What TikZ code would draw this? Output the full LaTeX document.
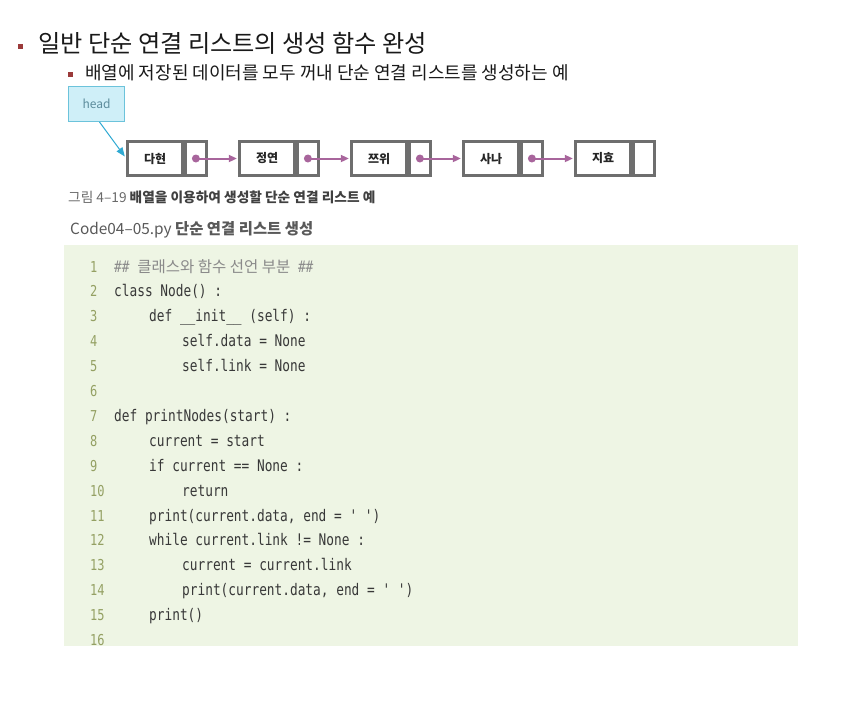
\documentclass[tikz,border=0pt]{standalone}
\usepackage{fontspec}
\setmainfont{Noto Sans CJK KR}
\newfontfamily\codefont{DejaVu Sans Mono}[FakeStretch=0.8, Ligatures=TeXOff]
\newfontfamily\cmtfont{Noto Sans CJK KR}
\usetikzlibrary{arrows.meta,calc}
\definecolor{bul}{HTML}{9B3A3A}
\definecolor{boxgray}{HTML}{6E6E6E}
\definecolor{headfill}{HTML}{CFEFF8}
\definecolor{headdraw}{HTML}{6CC3DB}
\definecolor{headtext}{HTML}{5C8C9C}
\definecolor{headarrow}{HTML}{2FA9D2}
\definecolor{ptrcol}{HTML}{A8659C}
\definecolor{codebg}{HTML}{EEF5E4}
\definecolor{lncol}{HTML}{94A063}
\definecolor{codecol}{HTML}{383838}
\definecolor{cmtcol}{HTML}{8A8A8A}
\definecolor{capgray}{HTML}{6A6A6A}
\tikzset{
  bullet/.style={fill=bul, minimum size=5pt, inner sep=0pt},
  datab/.style={draw=boxgray, line width=2.6pt, minimum width=55pt, minimum height=34.4pt, inner sep=0pt, anchor=west, font=\fontsize{12}{14}\selectfont\bfseries, text=black!85},
  ptrb/.style={draw=boxgray, line width=2.6pt, minimum width=21.4pt, minimum height=34.4pt, inner sep=0pt, anchor=west},
  headbox/.style={draw=headdraw, fill=headfill, line width=1pt, minimum width=56pt, minimum height=35pt, inner sep=0pt, font=\fontsize{12}{14}\selectfont, text=headtext},
  ptrarrow/.style={draw=ptrcol, line width=2pt, -{Triangle[length=8pt,width=7pt]}},
  dot/.style={circle, fill=ptrcol, minimum size=8pt, inner sep=0pt},
  lnum/.style={anchor=base west, inner sep=0pt, font=\codefont\fontsize{15}{16}\selectfont, text=lncol},
  codeline/.style={anchor=base west, inner sep=0pt, font=\codefont\fontsize{16}{18}\selectfont, text=codecol},
}
\begin{document}
\begin{tikzpicture}[x=1pt,y=-1pt]
\useasboundingbox (0,0) rectangle (853,723);
% titles
\node[bullet] (b1) at (20.5,46) {};
\node[anchor=west, inner sep=0pt, font=\fontsize{24.2}{27}\selectfont, text=black!90] (t1) at (38,43) {일반 단순 연결 리스트의 생성 함수 완성};
\node[bullet] (b2) at (70.5,74) {};
\node[anchor=west, inner sep=0pt, font=\fontsize{18}{20}\selectfont, text=black!90] (t2) at (85,73) {배열에 저장된 데이터를 모두 꺼내 단순 연결 리스트를 생성하는 예};
% head
\node[headbox] (head) at (96.5,104) {head};
% list nodes
\node[datab] (d1) at (126.3,158.5) {다현};
\node[ptrb] (p1) at (d1.east) {};
\node[datab] (d2) at (238.3,158.5) {정연};
\node[ptrb] (p2) at (d2.east) {};
\node[datab] (d3) at (350.3,158.5) {쯔위};
\node[ptrb] (p3) at (d3.east) {};
\node[datab] (d4) at (462.3,158.5) {사나};
\node[ptrb] (p4) at (d4.east) {};
\node[datab] (d5) at (574.3,158.5) {지효};
\node[ptrb] (p5) at (d5.east) {};
\foreach \i/\j in {1/2,2/3,3/4,4/5}{
  \node[dot] (c\i) at (p\i.center) {};
  \draw[ptrarrow] (c\i.center) -- ($(d\j.west)+(-1.5,0)$);
}
\draw[headarrow, line width=1pt, -{Triangle[length=9pt,width=7pt]}] ($(head.south)+(3,0)$) -- ($(d1.west)+(-1.5,-2)$);
% caption
\node[anchor=west, inner sep=0pt, font=\fontsize{13.7}{15}\selectfont] (cap) at (68,197) {\textcolor{capgray}{그림 4–19} \textcolor{black!75}{\bfseries 배열을 이용하여 생성할 단순 연결 리스트 예}};
\node[anchor=west, inner sep=0pt, font=\fontsize{15.4}{17}\selectfont, text=black!65] (ctitle) at (70,230) {Code04–05.py \bfseries 단순 연결 리스트 생성};
% code background
\fill[codebg] (64,245) rectangle (798,646);
% line numbers
\foreach \n [count=\k from 0] in {1,...,16}{
  \node[lnum] (ln\n) at (90,{272+24.9*\k}) {\n};
}
\node[codeline, text=cmtcol] (l1) at (114,272) {\#\# {\cmtfont\fontsize{15.5}{17}\selectfont 클래스와 함수 선언 부분} \#\#};
\node[codeline] (l2) at (114,296.9) {class Node() :};
\node[codeline] (l3) at (149,321.8) {def \_\_init\_\_ (self) :};
\node[codeline] (l4) at (182,346.7) {self.data = None};
\node[codeline] (l5) at (182,371.6) {self.link = None};
\node[codeline] (l7) at (114,421.4) {def printNodes(start) :};
\node[codeline] (l8) at (149,446.3) {current = start};
\node[codeline] (l9) at (149,471.2) {if current == None :};
\node[codeline] (l10) at (182,496.1) {return};
\node[codeline] (l11) at (149,521) {print(current.data, end = ' ')};
\node[codeline] (l12) at (149,545.9) {while current.link != None :};
\node[codeline] (l13) at (182,570.8) {current = current.link};
\node[codeline] (l14) at (182,595.7) {print(current.data, end = ' ')};
\node[codeline] (l15) at (149,620.6) {print()};
\end{tikzpicture}
\end{document}
